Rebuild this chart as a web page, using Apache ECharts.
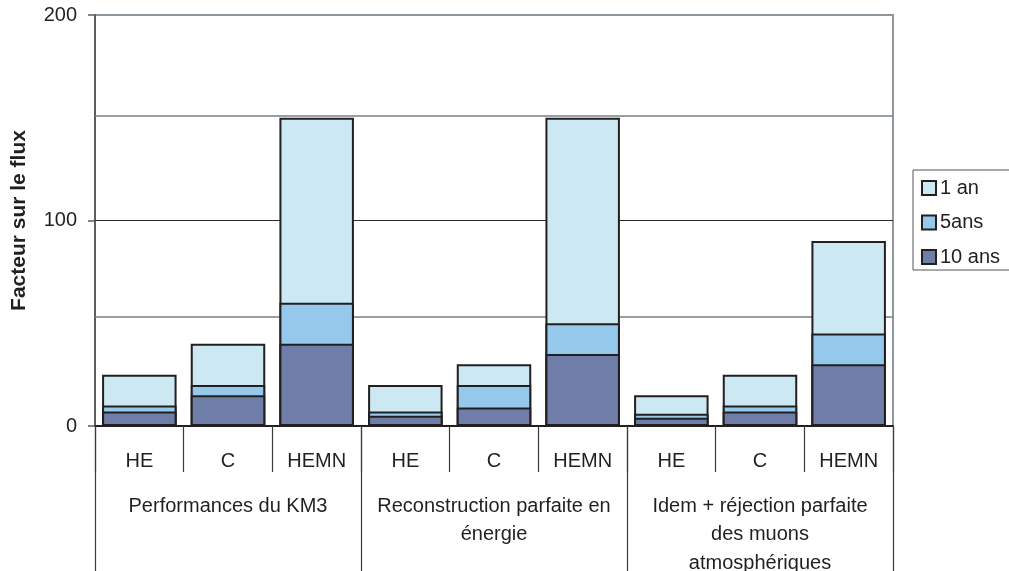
<!DOCTYPE html>
<html>
<head>
<meta charset="utf-8">
<style>
  html, body { margin: 0; padding: 0; background: #ffffff; }
  #chart { width: 1009px; height: 571px; }
</style>
<script src="https://cdn.jsdelivr.net/npm/echarts@6/dist/echarts.min.js"></script>
</head>
<body>
<div id="chart"></div>
<script>
// Sub-categories (one bar each) and their scenario groups
const categories = ['HE', 'C', 'HEMN', 'HE', 'C', 'HEMN', 'HE', 'C', 'HEMN'];
const groups = [
  'Performances du KM3',
  'Reconstruction parfaite en\nénergie',
  'Idem + réjection parfaite\ndes muons\natmosphériques'
];

// Flux factor per observation time (bars overlap, shortest in front)
const seriesNames = ['1 an', '5ans', '10 ans'];
const oneYear = [25, 40, 150, 20, 30, 150, 15, 25, 90];
const fiveYears = [10, 20, 60, 7, 20, 50, 6, 10, 45];
const tenYears = [7, 15, 40, 5, 9, 35, 4, 7, 30];

// Horizontal reference lines across the plot
const refLinesDark = [100];
const refLinesGray = [151, 53];

const yTicks = { min: 0, max: 200, interval: 100 };

const FONT = '"Liberation Sans", Arial, sans-serif';
const TEXT = '#231f20';
const colors = ['#cbe8f3', '#95c9ec', '#6f7ea8'];

const chart = echarts.init(document.getElementById('chart'), null, { renderer: 'canvas' });

const valuesBySeries = [oneYear, fiveYears, tenYears];

const series = seriesNames.map((name, i) => {
  const s = {
    name: name,
    type: 'bar',
    xAxisIndex: 0,
    yAxisIndex: 0,
    data: valuesBySeries[i],
    barGap: '-100%',
    barCategoryGap: '16%',
    z: 2 + i,
    itemStyle: { color: colors[i], borderColor: '#231f20', borderWidth: 2 },
    emphasis: { disabled: true },
    animation: false
  };
  if (i === 0) {
    s.markLine = {
      silent: true,
      symbol: 'none',
      label: { show: false },
      z: 1,
      data: refLinesDark.map(v => ({ yAxis: v, lineStyle: { color: '#2a2a2a', width: 1.2, type: 'solid' } }))
        .concat(refLinesGray.map(v => ({ yAxis: v, lineStyle: { color: '#7a7f84', width: 1.5, type: 'solid' } })))
    };
  }
  return s;
});

chart.setOption({
  animation: false,
  backgroundColor: '#ffffff',
  textStyle: { fontFamily: FONT, color: TEXT },
  grid: {
    left: 95, right: 116, top: 15, bottom: 145,
    containLabel: false,
    outerBoundsMode: 'none',
    show: true, borderColor: '#8e979d', borderWidth: 2, backgroundColor: 'transparent'
  },
  legend: {
    orient: 'vertical',
    left: 913, top: 170,
    padding: [8, 40, 3, 8],
    itemWidth: 14, itemHeight: 14, itemGap: 14.5,
    borderColor: '#555', borderWidth: 1,
    icon: 'rect',
    data: seriesNames,
    textStyle: { fontFamily: FONT, fontSize: 20, lineHeight: 20, color: TEXT, padding: [0, 0, 0, -1] },
    itemStyle: { borderColor: '#231f20', borderWidth: 2 },
    selectedMode: false
  },
  xAxis: [
    {
      type: 'category',
      data: categories,
      position: 'bottom',
      axisLine: { show: true, lineStyle: { color: '#231f20', width: 2 } },
      axisTick: { show: true, alignWithLabel: false, length: 46, lineStyle: { color: '#3a3a3a', width: 1.2 } },
      axisLabel: { interval: 0, margin: 25, fontFamily: FONT, fontSize: 20, color: TEXT }
    },
    {
      type: 'category',
      data: groups,
      position: 'bottom',
      axisLine: { show: false },
      axisTick: { show: true, length: 146, lineStyle: { color: '#3a3a3a', width: 1.2 } },
      axisLabel: { interval: 0, margin: 66, fontFamily: FONT, fontSize: 20, color: TEXT, lineHeight: 28.5, align: 'center' }
    }
  ],
  yAxis: {
    type: 'value',
    min: yTicks.min, max: yTicks.max, interval: yTicks.interval,
    name: 'Facteur sur le flux',
    nameLocation: 'middle',
    nameGap: 65,
    nameTextStyle: { fontFamily: FONT, fontSize: 21, fontWeight: 'bold', color: TEXT },
    axisLine: { show: true, lineStyle: { color: '#5a5e62', width: 2 } },
    axisTick: { show: true, length: 7, lineStyle: { color: '#5a5e62', width: 1.5 } },
    axisLabel: { margin: 18, fontFamily: FONT, fontSize: 20, color: TEXT },
    splitLine: { show: false }
  },
  series: series
});
</script>
</body>
</html>
